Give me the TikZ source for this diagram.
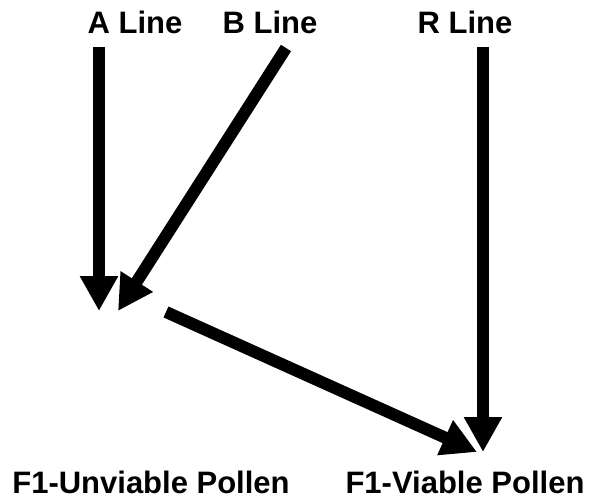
\documentclass[tikz,border=0pt]{standalone}
\usepackage{fontspec}
\setmainfont{Liberation Sans}
\usetikzlibrary{arrows.meta}
\tikzset{
    linelabel/.style={font=\bfseries\fontsize{31}{36}\selectfont, anchor=base, inner sep=0pt},
    cross/.style={line width=12pt, -{Triangle[length=35pt, width=36pt]}}
}

\begin{document}
\begin{tikzpicture}[x=1pt, y=-1pt]
\useasboundingbox (0,0) rectangle (590,504);

% ===============================================================
% ==== Parent lines ====
% ===============================================================
\node[linelabel] (aline) at (135,33) {A Line};
\node[linelabel] (bline) at (270,33) {B Line};
\node[linelabel] (rline) at (465,33) {R Line};

% ===============================================================
% ==== F1 pollen ====
% ===============================================================
\node[linelabel] (unviable) at (151,493) {F1-Unviable Pollen};
\node[linelabel] (viable) at (465,493) {F1-Viable Pollen};

% arrow end points
\coordinate (astart) at (99,47);
\coordinate (bstart) at (286,48);
\coordinate (rstart) at (483,47);
\coordinate (atip) at (99,311);
\coordinate (btip) at (118,311);
\coordinate (ustart) at (166,312);
\coordinate (utip) at (477,452);
\coordinate (rtip) at (483,452);

% 箭头
\draw[cross] (astart) -- (atip);
\draw[cross] (bstart) -- (btip);
\draw[cross] (rstart) -- (rtip);
\draw[cross] (ustart) -- (utip);

\end{tikzpicture}
\end{document}
